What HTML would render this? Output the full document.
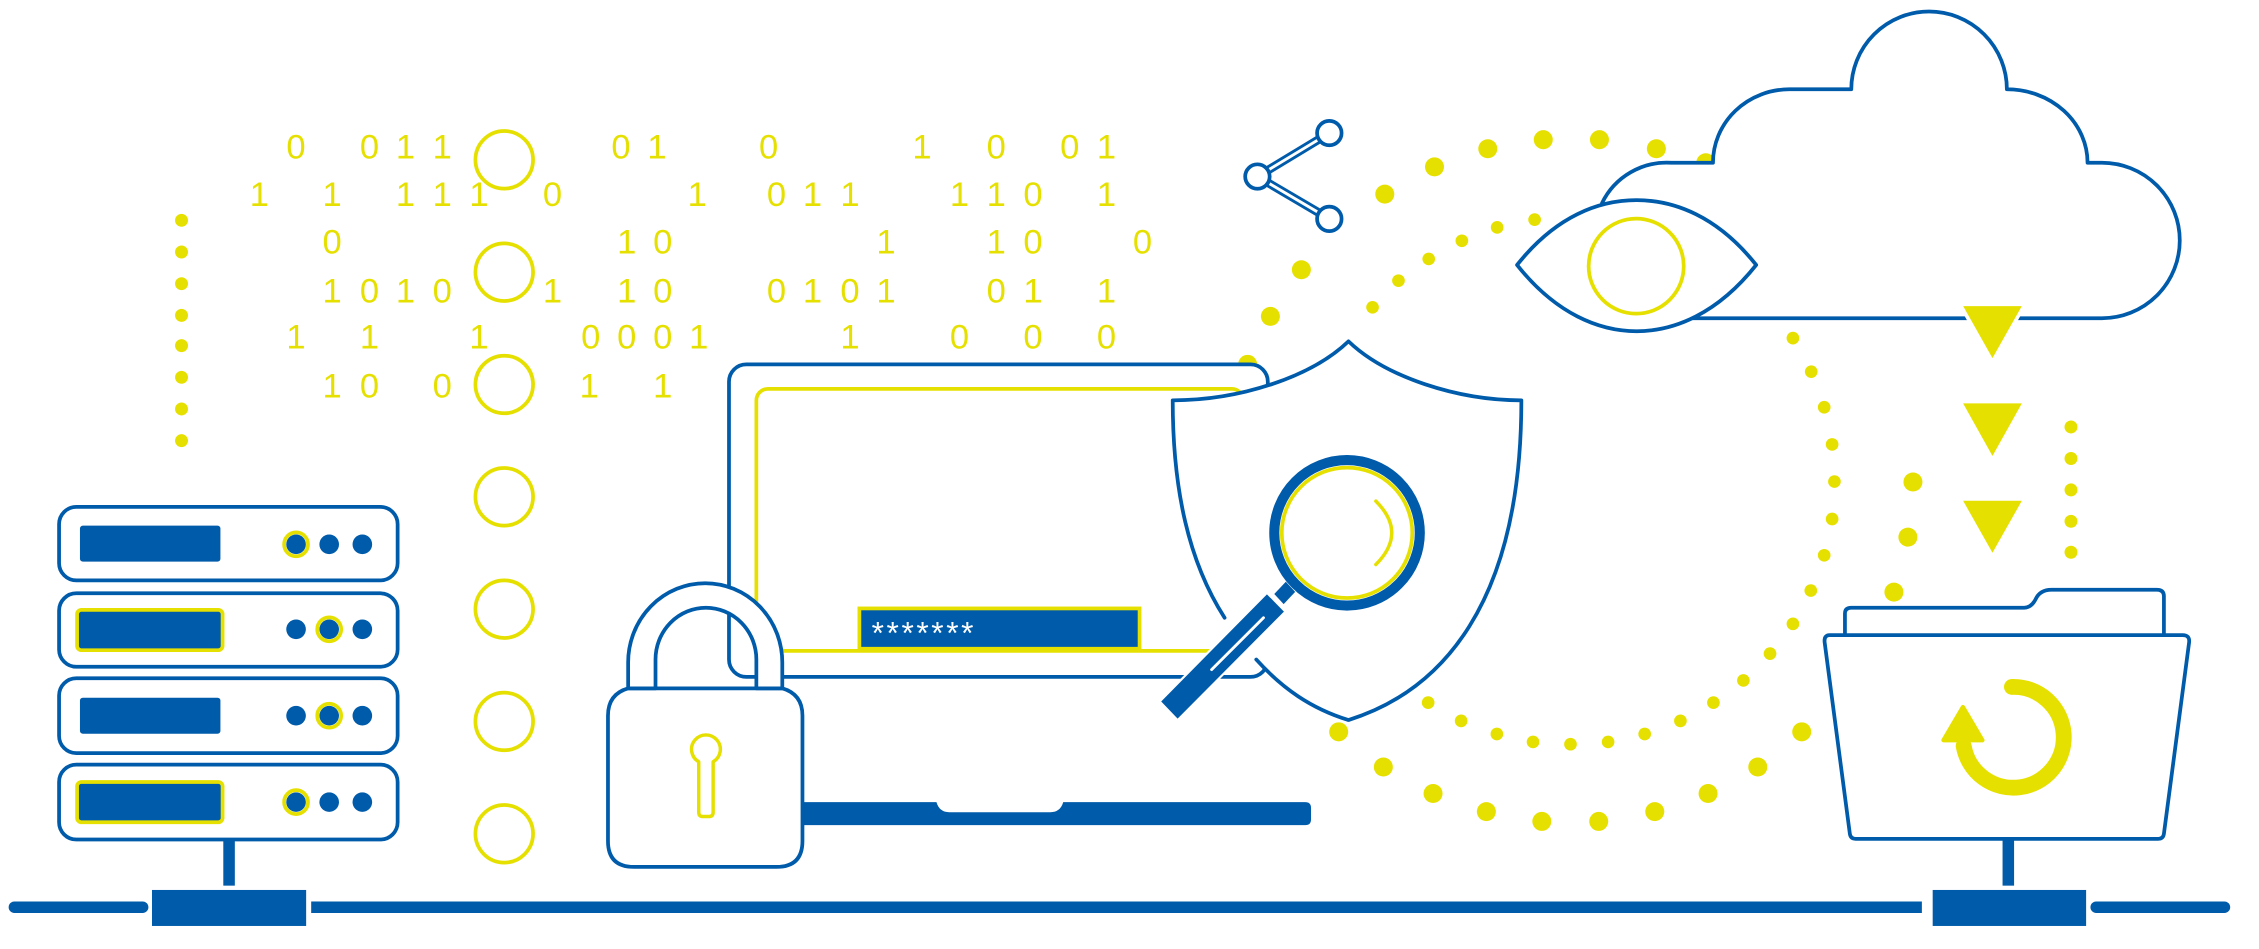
<!DOCTYPE html>
<html><head><meta charset="utf-8"><style>
html,body{margin:0;padding:0;background:#fff;}
svg{display:block;}
text{font-family:"Liberation Sans",sans-serif;}
</style></head><body>
<svg width="2259" height="949" viewBox="0 0 1568 659" preserveAspectRatio="none" xmlns="http://www.w3.org/2000/svg">
<defs><style>
.b{fill:none;stroke:#005baa;stroke-width:2.6;stroke-linejoin:round;stroke-linecap:round}
.bw{fill:#fff;stroke:#005baa;stroke-width:2.6;stroke-linejoin:round;stroke-linecap:round}
.y{fill:none;stroke:#e6e000;stroke-width:2.6}
.d{fill:#e6e000;font-size:24px;text-anchor:middle}
</style></defs>

<g class="d">
<text x="205.5" y="110">0</text><text x="256.5" y="110">0</text><text x="281.5" y="110">1</text><text x="307" y="110">1</text><text x="431" y="110">0</text><text x="456" y="110">1</text><text x="533.5" y="110">0</text><text x="640" y="110">1</text><text x="691.5" y="110">0</text><text x="742.5" y="110">0</text><text x="768" y="110">1</text>
<text x="180" y="143">1</text><text x="230.5" y="143">1</text><text x="281.5" y="143">1</text><text x="307" y="143">1</text><text x="332.5" y="143">1</text><text x="383.5" y="143">0</text><text x="484" y="143">1</text><text x="539" y="143">0</text><text x="564" y="143">1</text><text x="590" y="143">1</text><text x="666" y="143">1</text><text x="691.5" y="143">1</text><text x="717" y="143">0</text><text x="768" y="143">1</text>
<text x="230.5" y="176">0</text><text x="435" y="176">1</text><text x="460" y="176">0</text><text x="615" y="176">1</text><text x="691.5" y="176">1</text><text x="717" y="176">0</text><text x="793" y="176">0</text>
<text x="230.5" y="210">1</text><text x="256.5" y="210">0</text><text x="281.5" y="210">1</text><text x="307" y="210">0</text><text x="383.5" y="210">1</text><text x="435" y="210">1</text><text x="460" y="210">0</text><text x="539" y="210">0</text><text x="564" y="210">1</text><text x="590" y="210">0</text><text x="615" y="210">1</text><text x="691.5" y="210">0</text><text x="717" y="210">1</text><text x="768" y="210">1</text>
<text x="205.5" y="242">1</text><text x="256.5" y="242">1</text><text x="332.5" y="242">1</text><text x="410" y="242">0</text><text x="435" y="242">0</text><text x="460" y="242">0</text><text x="485" y="242">1</text><text x="590" y="242">1</text><text x="666" y="242">0</text><text x="717" y="242">0</text><text x="768" y="242">0</text>
<text x="230.5" y="276">1</text><text x="256.5" y="276">0</text><text x="307" y="276">0</text><text x="409" y="276">1</text><text x="460" y="276">1</text>
</g>

<g class="y">
<circle cx="350" cy="111" r="20"/><circle cx="350" cy="189" r="20"/><circle cx="350" cy="267" r="20"/><circle cx="350" cy="345" r="20"/><circle cx="350" cy="423" r="20"/><circle cx="350" cy="501" r="20"/><circle cx="350" cy="579" r="20"/>
</g>

<g fill="#e6e000">
<circle cx="126" cy="153" r="4.5"/><circle cx="126" cy="175" r="4.5"/><circle cx="126" cy="197" r="4.5"/><circle cx="126" cy="219" r="4.5"/><circle cx="126" cy="240" r="4.5"/><circle cx="126" cy="262" r="4.5"/><circle cx="126" cy="284" r="4.5"/><circle cx="126" cy="306" r="4.5"/>
<circle cx="1437.5" cy="296.5" r="4.5"/><circle cx="1437.5" cy="318.4" r="4.5"/><circle cx="1437.5" cy="340.2" r="4.5"/><circle cx="1437.5" cy="362" r="4.5"/><circle cx="1437.5" cy="383.5" r="4.5"/>
<circle cx="866" cy="253" r="6.6"/><circle cx="881.8" cy="219.7" r="6.6"/><circle cx="903.3" cy="187.3" r="6.6"/><circle cx="961.2" cy="134.8" r="6.6"/><circle cx="995.7" cy="115.9" r="6.6"/><circle cx="1032.7" cy="103.3" r="6.6"/><circle cx="1071.2" cy="97" r="6.6"/><circle cx="1110.2" cy="97" r="6.6"/><circle cx="1149.7" cy="103.3" r="6.6"/><circle cx="1184" cy="113" r="6.6"/>
<circle cx="929.2" cy="508.2" r="6.6"/><circle cx="960.2" cy="532.6" r="6.6"/><circle cx="994.7" cy="551" r="6.6"/><circle cx="1031.7" cy="563.6" r="6.6"/><circle cx="1070.2" cy="570.4" r="6.6"/><circle cx="1109.7" cy="570.4" r="6.6"/><circle cx="1148.6" cy="563.6" r="6.6"/><circle cx="1185.6" cy="551" r="6.6"/><circle cx="1220.1" cy="532.6" r="6.6"/><circle cx="1250.6" cy="508.2" r="6.6"/><circle cx="1314.6" cy="411.2" r="6.6"/><circle cx="1324.3" cy="373" r="6.6"/><circle cx="1327.8" cy="334.7" r="6.6"/>
<circle cx="952.7" cy="213.4" r="4.4"/><circle cx="970.7" cy="194.9" r="4.4"/><circle cx="991.7" cy="179.8" r="4.4"/><circle cx="1014.7" cy="167.2" r="4.4"/><circle cx="1039.2" cy="157.9" r="4.4"/><circle cx="1065.2" cy="152.5" r="4.4"/>
<circle cx="1244.5" cy="234.8" r="4.4"/><circle cx="1257.2" cy="258.1" r="4.4"/><circle cx="1266.2" cy="282.8" r="4.4"/><circle cx="1271.7" cy="308.6" r="4.4"/><circle cx="1273.3" cy="334.4" r="4.4"/><circle cx="1271.7" cy="360.4" r="4.4"/><circle cx="1266.2" cy="385.6" r="4.4"/><circle cx="1256.9" cy="410.1" r="4.4"/><circle cx="1244.5" cy="433.2" r="4.4"/><circle cx="1228.6" cy="453.9" r="4.4"/><circle cx="1210.1" cy="472.5" r="4.4"/><circle cx="1189.3" cy="487.9" r="4.4"/><circle cx="1166.4" cy="500.6" r="4.4"/><circle cx="1141.6" cy="509.7" r="4.4"/><circle cx="1116.2" cy="515.2" r="4.4"/><circle cx="1090.1" cy="516.8" r="4.4"/><circle cx="1064.1" cy="515.2" r="4.4"/><circle cx="1039" cy="509.7" r="4.4"/><circle cx="1014.2" cy="500.6" r="4.4"/><circle cx="991.3" cy="487.9" r="4.4"/>
</g>

<g>
<rect class="bw" x="41" y="352" width="235" height="51" rx="12"/>
<rect class="bw" x="41" y="412" width="235" height="51" rx="12"/>
<rect class="bw" x="41" y="471" width="235" height="52" rx="12"/>
<rect class="bw" x="41" y="531" width="235" height="52" rx="12"/>
<rect x="55.5" y="365" width="97.5" height="25" rx="2" fill="#005baa"/>
<rect x="53.5" y="423.5" width="101" height="28" rx="3" fill="#005baa" stroke="#e6e000" stroke-width="2.6"/>
<rect x="55.5" y="484.5" width="97.5" height="25" rx="2" fill="#005baa"/>
<rect x="53.5" y="543" width="101" height="28" rx="3" fill="#005baa" stroke="#e6e000" stroke-width="2.6"/>
<g fill="#005baa">
<circle cx="205.5" cy="378" r="6.8"/><circle cx="228.5" cy="378" r="6.8"/><circle cx="251.5" cy="378" r="6.8"/>
<circle cx="205.5" cy="437" r="6.8"/><circle cx="228.5" cy="437" r="6.8"/><circle cx="251.5" cy="437" r="6.8"/>
<circle cx="205.5" cy="497" r="6.8"/><circle cx="228.5" cy="497" r="6.8"/><circle cx="251.5" cy="497" r="6.8"/>
<circle cx="205.5" cy="557" r="6.8"/><circle cx="228.5" cy="557" r="6.8"/><circle cx="251.5" cy="557" r="6.8"/>
</g>
<g class="y"><circle cx="205.5" cy="378" r="8.3"/><circle cx="228.5" cy="437" r="8.3"/><circle cx="228.5" cy="497" r="8.3"/><circle cx="205.5" cy="557" r="8.3"/></g>
</g>

<g fill="#005baa">
<rect x="155" y="583" width="8" height="32"/>
<rect x="105.5" y="618" width="107" height="25"/>
<rect x="1390" y="583" width="8" height="32"/>
<rect x="1341.5" y="618" width="106.5" height="25"/>
</g>
<g stroke="#005baa" stroke-width="8" stroke-linecap="round">
<line x1="10" y1="630" x2="99" y2="630"/>
<line x1="220" y1="630" x2="1334" y2="630" stroke-linecap="butt"/>
<line x1="1455" y1="630" x2="1544" y2="630"/>
</g>
<line x1="216" y1="630" x2="222" y2="630" stroke="#005baa" stroke-width="8"/>

<rect class="bw" x="506" y="253" width="374" height="217" rx="12"/>
<rect x="525" y="270" width="338" height="182" rx="8" fill="none" stroke="#e6e000" stroke-width="2.6"/>
<rect x="596.5" y="422.5" width="194.5" height="28" fill="#005baa" stroke="#e6e000" stroke-width="2.6"/>
<text x="605" y="447" fill="#fff" font-size="22" letter-spacing="1.8">*******</text>
<path d="M545,557 H650 Q652,564 659,564 H729 Q736,564 738,557 H906 Q910,557 910,561 V569 Q910,573 906,573 H545 Z" fill="#005baa"/>

<g>
<line x1="872.8" y1="122.6" x2="922.7" y2="92.4" stroke="#005baa" stroke-width="6"/>
<line x1="872.8" y1="122.6" x2="922.7" y2="152" stroke="#005baa" stroke-width="6"/>
<line x1="872.8" y1="122.6" x2="922.7" y2="92.4" stroke="#fff" stroke-width="2"/>
<line x1="872.8" y1="122.6" x2="922.7" y2="152" stroke="#fff" stroke-width="2"/>
<circle class="bw" cx="922.7" cy="92.4" r="8.5" stroke-width="2"/>
<circle class="bw" cx="872.8" cy="122.6" r="8.5" stroke-width="2"/>
<circle class="bw" cx="922.7" cy="152" r="8.5" stroke-width="2"/>
</g>

<path d="M814,278 C860,278 910,262 936,237 C962,262 1012,278 1056,278 C1056,420 1000,480 936,500 C910,492 890,478 872,458 L850,429 C825,390 814,340 814,278 Z" fill="#fff"/>
<path class="b" d="M850,429 C825,390 814,340 814,278 C860,278 910,262 936,237 C962,262 1012,278 1056,278 C1056,420 1000,480 936,500 C910,492 890,478 872,458"/>
<circle cx="935" cy="370" r="50.5" fill="#fff" stroke="#005baa" stroke-width="7"/>
<circle cx="935" cy="370" r="45.3" fill="none" stroke="#e6e000" stroke-width="2.6"/>
<path d="M955,348 Q977,370 955,392" fill="none" stroke="#e6e000" stroke-width="2.4" stroke-linecap="round"/>
<polygon points="879.4,412.7 891.2,424.7 817.4,499 806,487.1" fill="#005baa" stroke="#fff" stroke-width="3"/>
<polygon points="879.4,412.7 891.2,424.7 817.4,499 806,487.1" fill="#005baa"/>
<line x1="877" y1="429" x2="841" y2="465" stroke="#fff" stroke-width="2" stroke-linecap="round"/>
<polygon points="892.5,404 899,411 891,419.5 884.5,412.5" fill="#005baa"/>

<path class="bw" d="M436,478 Q422,482 422,497 V584 Q422,602 440,602 H539 Q557,602 557,584 V497 Q557,482 543,478 Z"/>
<path class="bw" d="M436,478 V460 A53.5 55 0 0 1 543,460 V478 H525 V458 A35 36 0 0 0 455,458 V478 Z"/>
<path d="M485,529 A10 10 0 1 1 495,529 V564 Q495,567 492,567 H488 Q485,567 485,564 Z" fill="none" stroke="#e6e000" stroke-width="2.4" stroke-linejoin="round"/>

<path class="bw" d="M1169,221 H1459 A54 54 0 0 0 1459,113 H1449 A56 51 0 0 0 1393,62 A54 54 0 0 0 1285,62 H1242 A53 51 0 0 0 1189,113 H1160 A50 50 0 0 0 1112,141"/>
<path class="bw" d="M1053,184 C1080,150 1110,139 1136,139 C1162,139 1192,150 1219,184 C1192,218 1162,230 1136,230 C1110,230 1080,218 1053,184 Z"/>
<circle cx="1135.7" cy="184.8" r="33" class="y"/>

<g fill="#e6e000" stroke="#fff" stroke-width="2.5">
<polygon points="1360.5,211.3 1405.5,211.3 1383,251.2"/>
<polygon points="1360.5,278.9 1405.5,278.9 1383,319.2"/>
<polygon points="1360.5,346.5 1405.5,346.5 1383,386.4"/>
</g>

<path class="bw" d="M1280.6,441 V426 Q1280.6,422 1285,422 H1405 Q1410,422 1413,416 Q1416,409.5 1424,409.5 H1497 Q1502,409.5 1502,414 V441"/>
<path class="bw" d="M1270,441 H1515 Q1520,441 1519.5,446 L1502,579 Q1501.5,582.5 1498,582.5 H1288 Q1284.5,582.5 1284,579 L1266.5,446 Q1266,441 1270,441 Z"/>
<path d="M1396.5,477 A35 35 0 1 1 1363,518" fill="none" stroke="#e6e000" stroke-width="11" stroke-linecap="round"/>
<polygon points="1349,514 1376,514 1362.5,491" fill="#e6e000" stroke="#e6e000" stroke-width="3" stroke-linejoin="round"/>
</svg>
</body></html>
